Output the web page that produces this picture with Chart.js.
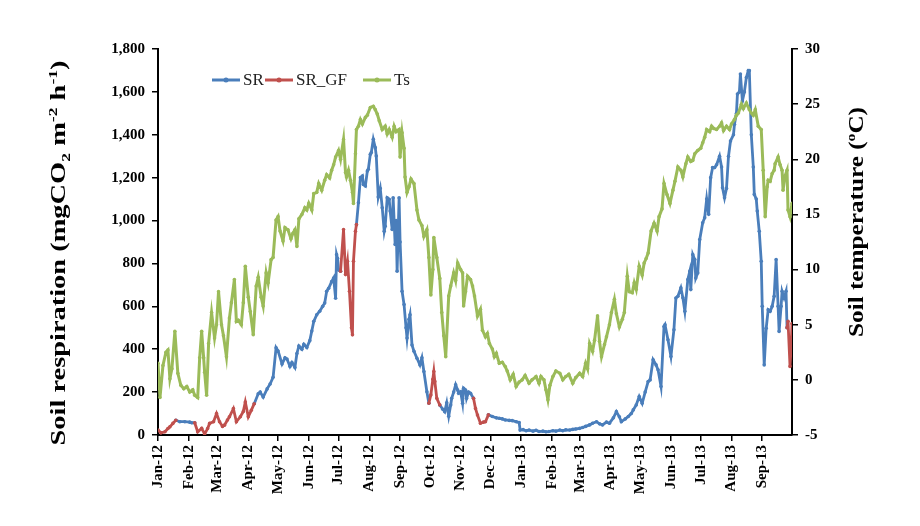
<!DOCTYPE html>
<html lang="en">
<head>
<meta charset="UTF-8" />
<title>Soil respiration and soil temperature</title>
<script src="https://cdn.jsdelivr.net/npm/chart.js@4"></script>
<style>
  html, body { margin: 0; padding: 0; background: #fff; }
  #chart { display: block; }
</style>
</head>
<body>
<canvas id="chart" width="920" height="526"></canvas>
<script>
// x axis: days since 1 Jan 2012, ticks at the first of each month
const monthDays = [0, 31, 60, 91, 121, 152, 182, 213, 244, 274, 305, 335,
  366, 397, 425, 456, 486, 517, 547, 578, 609];
const monthLabels = ['Jan-12', 'Feb-12', 'Mar-12', 'Apr-12', 'May-12', 'Jun-12', 'Jul-12',
  'Aug-12', 'Sep-12', 'Oct-12', 'Nov-12', 'Dec-12', 'Jan-13', 'Feb-13', 'Mar-13',
  'Apr-13', 'May-13', 'Jun-13', 'Jul-13', 'Aug-13', 'Sep-13'];

// SR, measured soil respiration (null = gap, filled by SR_GF)
const srDays = [18, 22, 27, 32, 34, 37, 60,
  97, 101, 103, 106, 110, 113, 116, 119, 121, 125, 128, 130, 133, 135, 138, 140, 142, 145, 147,
  150, 153, 155, 157, 160, 163, 166, 168, 170, 172, 175, 177, 179, 180, 181, 182, 184, 192,
  200, 202, 204, 206, 207, 209, 211, 212, 214, 215, 217, 219, 220, 222, 224, 226, 228, 229,
  231, 233, 234, 236, 237, 239, 240, 241, 243, 244, 246, 248, 250, 251, 253, 254, 256, 258,
  261, 264, 266, 268, 271, 273, 278,
  284, 287, 289, 291, 293, 295, 296, 298, 300, 302, 303, 305, 307, 308, 310, 311, 313, 315, 318, 325,
  333, 337, 341, 344, 347, 350, 354, 357, 361, 364, 365, 368, 371, 374, 378, 381, 384, 388,
  391, 394, 398, 401, 405, 408, 411, 415, 418, 421, 425, 428, 431, 435, 438, 442, 445, 448,
  452, 455, 459, 462, 465, 467, 471, 474, 477, 479, 482, 485, 488, 491, 494, 496, 499, 502,
  504, 507, 510, 511, 514, 517, 520, 522, 524, 527, 529, 531, 534, 536, 537, 539, 541, 542,
  544, 546, 549, 551, 553, 555, 557, 559, 561, 563, 566, 568, 569, 571, 573, 575, 577, 580,
  581, 583, 584, 586, 587, 589, 591, 593, 595, 596, 598, 600, 601, 603, 604, 606, 608, 609,
  611, 613, 615, 617, 619, 621, 623, 625, 626, 628, 629, 631, 633, 634];
const srValues = [69, 62, 62, 60, 57, 57, null,
  146, 192, 200, 177, 215, 238, 269, 407, 392, 331, 360, 354, 320, 338, 315, 380, 415, 400, 423,
  408, 440, 485, 530, 561, 577, 600, 615, 670, 684, 715, 732, 638, 841, 823, 770, 764, null,
  981, 1083, 1200, 1208, 1168, 1161, 1231, 1239, 1309, 1317, 1379, 1340, 1301, 1110, 1150, 1060, 950, 974,
  1106, 1099, 1044, 958, 1106, 888, 1000, 764, 1106, 900, 670, 608, 500, 452, 540, 561, 420, 390,
  358, 327, 360, 296, 202, 148, null,
  140, 120, 109, 150, 88, 140, 171, 200, 234, 210, 195, 202, 148, 218, 210, 171, 200, 195, 171, null,
  94, 86, 80, 78, 75, 70, 68, 67, 62, 58, 23, 25, 20, 23, 18, 22, 16, 18,
  15, 16, 20, 18, 23, 20, 24, 23, 26, 28, 31, 35, 40, 47, 55, 62, 52, 47,
  60, 55, 80, 109, 85, 62, 75, 86, 100, 117, 140, 179, 148, 200, 249, 257, 351, 327,
  304, 226, 506, 514, 444, 366, 491, 639, 647, 686, 640, 577, 725, 764, 678, 841, 818, 732,
  756, 912, 990, 1013, 1100, 1029, 1200, 1247, 1247, 1260, 1300, 1250, 1153, 1106, 1150, 1300, 1371, 1400,
  1449, 1500, 1590, 1600, 1683, 1558, 1600, 1667, 1700, 1699, 1400, 1250, 1122, 1100, 1044, 950, 810, 600,
  327, 498, 584, 577, 600, 647, 818, 600, 483, 600, 670, 640, 670, 500];

// SR_GF, gap-filled soil respiration
const gfDays = [0, 3, 7, 10, 12, 15, 18, 27,
  37, 40, 44, 47, 50, 52, 56, 59, 62, 65, 67, 70, 72, 76, 79, 83, 86, 88, 91, 94, 97, 150,
  184, 187, 189, 191, 193, 195, 196, 197, 199, 200, 230,
  273, 275, 277, 278, 279, 281, 284, 300,
  318, 320, 322, 325, 328, 330, 333, 400,
  634, 635, 637, 638, 639];
const gfValues = [23, 10, 15, 30, 38, 54, 69, null,
  57, 15, 31, 5, 30, 54, 62, 100, 62, 40, 46, 70, 85, 123, 62, 85, 110, 154, 85, 115, 146, null,
  764, 958, 748, 810, 670, 500, 467, 810, 950, 981, null,
  148, 187, 260, 296, 250, 171, 140, null,
  171, 124, 93, 55, 60, 62, 94, null,
  500, 530, 320, 400, 520];

// Ts, soil temperature (°C), right axis
const tsDays = [0, 2, 5, 8, 10, 12, 14, 17, 20, 23, 26, 29, 32, 35, 37, 40, 42, 44, 46, 47, 49,
  51, 54, 57, 59, 61, 64, 66, 69, 72, 74, 77, 79, 81, 84, 86, 88, 91, 93, 96, 99, 101, 104,
  106, 109, 111, 114, 116, 119, 121, 123, 126, 128, 131, 134, 136, 138, 140, 142, 145, 148,
  150, 152, 155, 157, 160, 162, 165, 168, 170, 173, 175, 177, 179, 182, 184, 187, 189, 190,
  192, 194, 196, 197, 199, 200, 202, 204, 206, 209, 211, 214, 217, 219, 221, 223, 226, 229,
  231, 233, 236, 238, 240, 243, 244, 246, 248, 249, 251, 253, 255, 258, 261, 263, 266, 268,
  271, 273, 275, 277, 278, 281, 284, 286, 288, 290, 293, 295, 298, 300, 302, 305, 307, 308,
  310, 312, 315, 317, 319, 322, 325, 327, 330, 332, 334, 337, 339, 341, 344, 347, 350, 352,
  355, 358, 361, 364, 367, 370, 374, 377, 381, 384, 386, 389, 391, 393, 395, 398, 401, 405,
  408, 411, 414, 418, 421, 425, 428, 431, 433, 435, 438, 440, 443, 445, 447, 450, 452, 455,
  457, 460, 462, 465, 468, 470, 473, 475, 478, 480, 482, 485, 488, 490, 492, 494, 497, 500,
  503, 505, 508, 510, 513, 516, 519, 521, 524, 527, 529, 532, 534, 537, 539, 541, 544, 547,
  549, 551, 553, 556, 558, 560, 563, 566, 568, 570, 573, 576, 578, 581, 583, 585, 588, 590,
  593, 596, 598, 600, 602, 605, 608, 610, 612, 614, 615, 617, 619, 621, 622, 625, 627, 629,
  630, 632, 634, 635, 637, 639];
const tsValues = [1.5, -1.6, 1.3, 2.5, 2.7, 0.1, 1.0, 4.4, 0.6, -0.5, -0.8, -0.6, -1.1, -0.9, -1.4, -1.6, 2.0, 4.4, 2.0, 0.7, -1.4,
  3.3, 6.1, 3.8, 5.0, 8.0, 5.0, 4.0, 2.1, 5.6, 7.0, 9.1, 5.3, 5.4, 5.0, 7.0, 10.3, 7.5, 6.2, 4.1, 8.5, 9.3, 7.5,
  6.7, 9.7, 8.8, 10.9, 11.1, 14.5, 14.8, 13.5, 12.6, 13.8, 13.6, 12.8, 13.3, 13.6, 12.1, 14.6, 15.0, 15.6,
  15.4, 16.0, 15.4, 16.9, 17.0, 17.8, 17.2, 18.1, 18.6, 18.3, 19.0, 19.5, 20.2, 20.8, 20.0, 21.8, 18.8, 18.4,
  19.0, 18.1, 17.0, 16.0, 20.5, 22.7, 23.0, 23.6, 23.2, 23.8, 24.0, 24.7, 24.8, 24.5, 24.1, 23.5, 22.7, 23.0,
  22.3, 22.7, 22.0, 23.0, 22.5, 22.7, 20.2, 22.4, 21.0, 18.4, 17.0, 17.5, 18.2, 17.8, 15.4, 14.5, 14.0, 13.0,
  13.6, 11.1, 7.7, 10.0, 12.9, 11.1, 9.2, 6.1, 4.0, 2.1, 7.6, 8.5, 9.7, 9.0, 10.6, 10.0, 9.7, 6.7,
  8.0, 9.4, 9.1, 8.5, 7.6, 5.8, 6.4, 4.5, 3.9, 4.2, 3.3, 2.8, 2.1, 2.4, 1.5, 1.6, 1.2, 0.8,
  0.0, 0.5, -0.6, -0.2, 0.0, 0.4, -0.3, 0.0, 0.3, -0.3, 0.3, 0.0, -0.9, -1.8, -0.5, 0.3, 0.8, 0.6,
  0.0, 0.3, 0.5, -0.3, 0.2, 0.6, 0.3, 1.5, 1.0, 3.3, 2.6, 3.6, 5.8, 3.5, 2.1, 3.2, 3.9, 5.0,
  6.1, 7.3, 6.0, 4.8, 5.5, 6.1, 9.4, 8.0, 7.9, 8.8, 8.2, 10.3, 9.5, 10.6, 11.0, 11.5, 13.5, 14.2,
  13.5, 14.8, 15.5, 17.8, 16.8, 16.0, 17.2, 18.0, 19.3, 19.0, 18.4, 19.6, 20.2, 19.8, 19.9, 20.5, 20.8, 21.0,
  21.5, 22.0, 22.7, 22.5, 23.0, 22.8, 22.7, 23.0, 23.3, 22.6, 23.0, 22.7, 23.2, 23.6, 24.0, 24.2, 25.0, 24.6,
  25.1, 24.5, 24.2, 24.0, 24.5, 23.0, 22.7, 19.0, 14.8, 17.5, 18.1, 18.0, 18.7, 19.0, 19.6, 20.2, 19.5, 19.0,
  17.2, 18.5, 19.0, 15.4, 14.8, 16.0];

const FONT = '"Liberation Serif", "Times New Roman", serif';
const BLUE = '#4a7ebb';
const RED = '#c0504d';
const GREEN = '#9bbb59';

function toPoints(days, values) {
  return days.map((d, i) => ({ x: d, y: values[i] }));
}

// legend drawn inside the plot area, axis titles drawn with sub/superscripts
const overlay = {
  id: 'overlay',
  afterDraw(chart) {
    const ctx = chart.ctx;
    ctx.save();

    const legendX = [212, 265, 363];
    const legendY = 80;
    ctx.font = '17px ' + FONT;
    ctx.textBaseline = 'middle';
    chart.data.datasets.forEach((ds, i) => {
      const x = legendX[i];
      ctx.strokeStyle = ds.borderColor;
      ctx.lineWidth = 3;
      ctx.beginPath();
      ctx.moveTo(x, legendY);
      ctx.lineTo(x + 28, legendY);
      ctx.stroke();
      ctx.fillStyle = ds.borderColor;
      ctx.beginPath();
      ctx.arc(x + 14, legendY, 2.5, 0, Math.PI * 2);
      ctx.fill();
      ctx.fillStyle = '#222';
      ctx.fillText(ds.label, x + 31, legendY + 1);
    });

    drawVertical(ctx, 60, 253, 385, [
      ['Soil respiration (mgCO', 0], ['2', 1], [' m', 0], ['-2', -1],
      [' h', 0], ['-1', -1], [')', 0]
    ], 21);
    drawVertical(ctx, 858, 222, 230, [['Soil temperature (', 0], ['o', -1], ['C)', 0]], 21);

    ctx.restore();
  }
};

// rotated title, stretched along its length to the given span
function drawVertical(ctx, cx, cy, span, parts, size) {
  ctx.save();
  ctx.translate(cx, cy);
  ctx.rotate(-Math.PI / 2);
  ctx.fillStyle = '#000';
  ctx.textBaseline = 'middle';
  const fonts = parts.map(p => (p[1] === 0 ? 'bold ' + size + 'px ' : 'bold ' + Math.round(size * 0.62) + 'px ') + FONT);
  let total = 0;
  const widths = parts.map((p, i) => { ctx.font = fonts[i]; const w = ctx.measureText(p[0]).width; total += w; return w; });
  ctx.scale(span / total, 1);
  let x = -total / 2;
  parts.forEach((p, i) => {
    ctx.font = fonts[i];
    ctx.fillText(p[0], x, p[1] * size * 0.3);
    x += widths[i];
  });
  ctx.restore();
}

const tickFont = { family: FONT, size: 15, weight: 'bold' };

new Chart(document.getElementById('chart'), {
  type: 'line',
  data: {
    datasets: [
      { label: 'SR', data: toPoints(srDays, srValues), borderColor: BLUE, backgroundColor: BLUE, yAxisID: 'y', order: 2 },
      { label: 'SR_GF', data: toPoints(gfDays, gfValues), borderColor: RED, backgroundColor: RED, yAxisID: 'y', order: 1 },
      { label: 'Ts', data: toPoints(tsDays, tsValues), borderColor: GREEN, backgroundColor: GREEN, yAxisID: 'y1', order: 0, borderWidth: 3, pointBorderWidth: 0 }
    ]
  },
  options: {
    responsive: false,
    animation: false,
    devicePixelRatio: 1,
    layout: { padding: { top: 49, left: 0, right: 0, bottom: 0 } },
    elements: {
      line: { borderWidth: 2.8, tension: 0 },
      point: { radius: 1.8, borderWidth: 0, hoverRadius: 0 }
    },
    plugins: {
      legend: { display: false },
      tooltip: { enabled: false }
    },
    scales: {
      x: {
        type: 'linear',
        min: 0,
        max: 639,
        afterBuildTicks: scale => { scale.ticks = monthDays.map(v => ({ value: v })); },
        afterFit: scale => { scale.height = 91; },
        ticks: {
          autoSkip: false,
          minRotation: 90,
          maxRotation: 90,
          padding: 4,
          color: '#000',
          font: tickFont,
          callback: value => monthLabels[monthDays.indexOf(value)]
        },
        grid: { drawOnChartArea: false, color: '#000', lineWidth: 1.5, tickLength: 6 },
        border: { color: '#000', width: 2 }
      },
      y: {
        position: 'left',
        min: 0,
        max: 1800,
        afterFit: scale => { scale.width = 158; },
        ticks: {
          stepSize: 200,
          padding: 7,
          color: '#000',
          font: tickFont,
          callback: value => value.toLocaleString('en-US')
        },
        grid: { drawOnChartArea: false, color: '#000', lineWidth: 1.5, tickLength: 6 },
        border: { color: '#000', width: 2 }
      },
      y1: {
        position: 'right',
        min: -5,
        max: 30,
        afterFit: scale => { scale.width = 128; },
        ticks: {
          stepSize: 5,
          padding: 7,
          color: '#000',
          font: tickFont
        },
        grid: { drawOnChartArea: false, color: '#000', lineWidth: 1.5, tickLength: 6 },
        border: { color: '#000', width: 2 }
      }
    }
  },
  plugins: [overlay]
});
</script>
</body>
</html>
